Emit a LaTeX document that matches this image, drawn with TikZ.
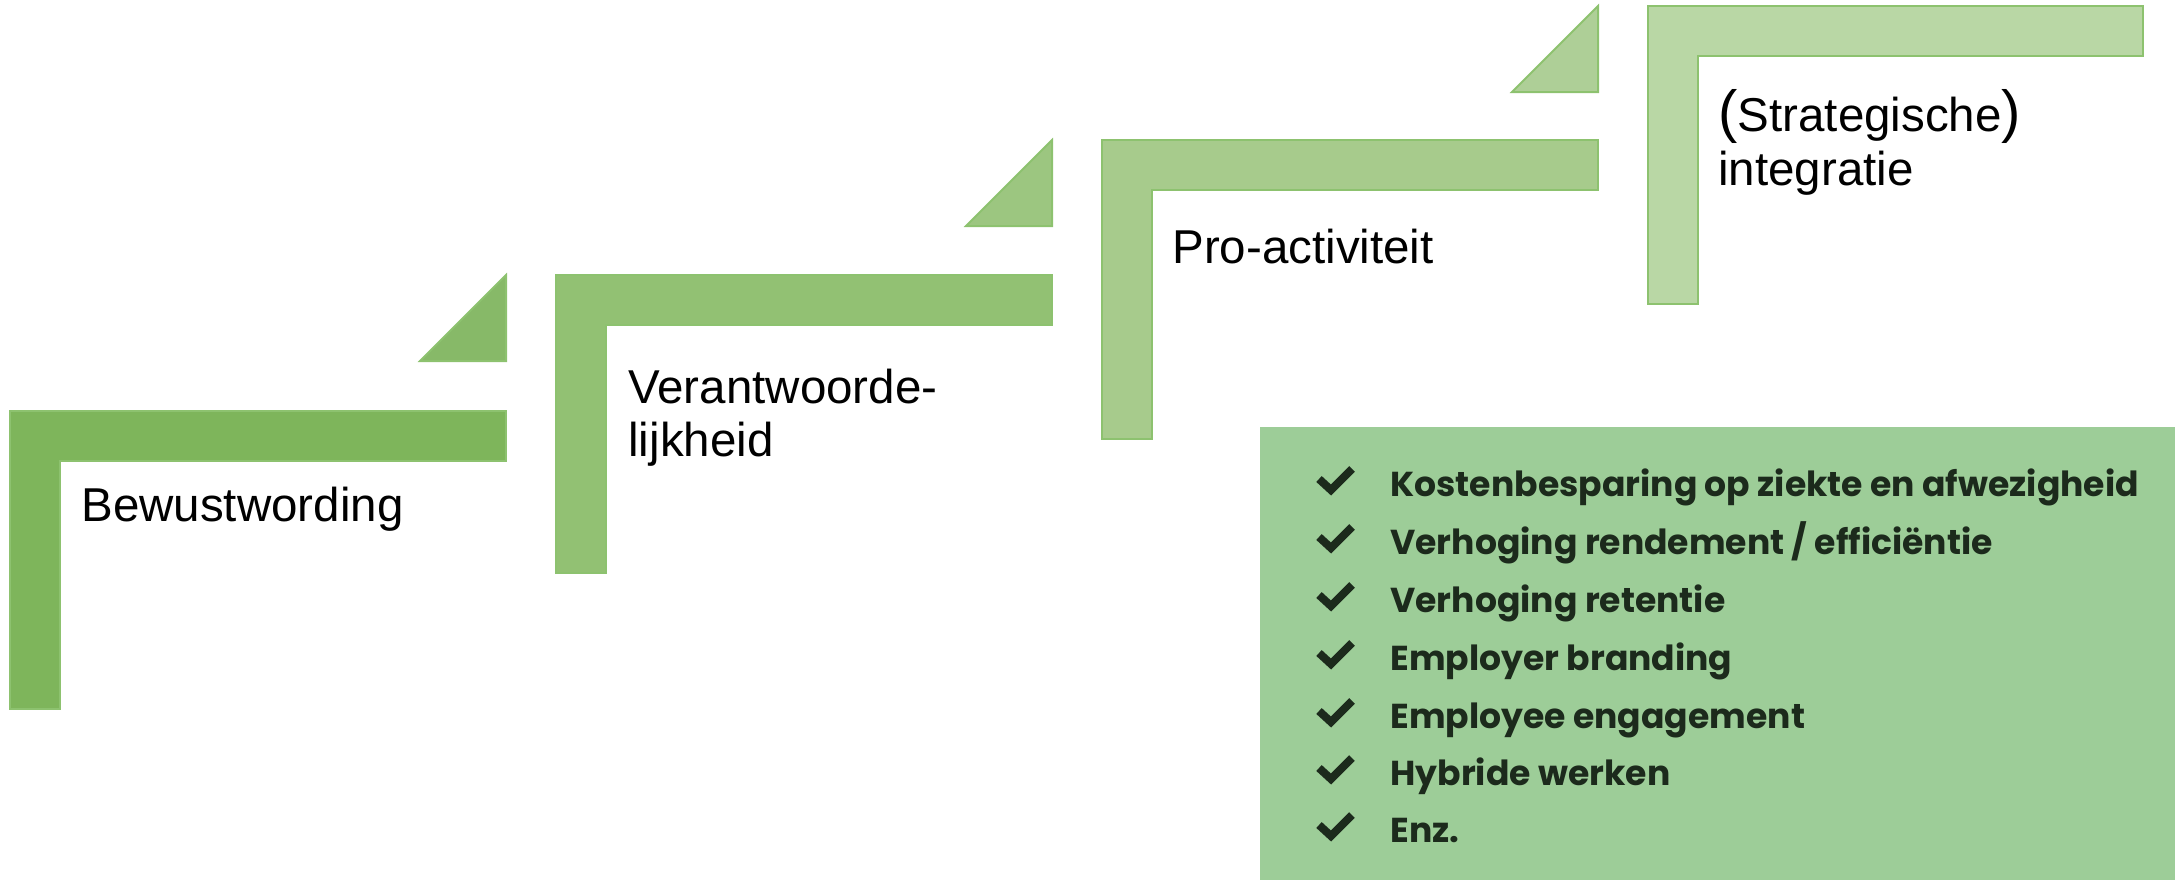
\documentclass[tikz,border=0pt]{standalone}
\usepackage{fontspec}
\setmainfont{Liberation Sans}
\newfontfamily\listfont{Poppins}
\definecolor{sA}{HTML}{7EB55B}
\definecolor{sB}{HTML}{92C173}
\definecolor{sC}{HTML}{A7CB8C}
\definecolor{sD}{HTML}{B9D7A5}
\definecolor{tA}{HTML}{87B968}
\definecolor{tB}{HTML}{9CC680}
\definecolor{tC}{HTML}{AECF97}
\definecolor{edgeg}{HTML}{8DC26F}
\definecolor{boxg}{HTML}{9DCD98}
\definecolor{ink}{HTML}{1C2A1C}
\begin{document}
\begin{tikzpicture}[x=0.5pt,y=-0.5pt,
  stepshape/.style={draw=edgeg, line width=1pt},
  steplabel/.style={anchor=base west, inner sep=0pt, font=\fontsize{23.75}{28.5}\selectfont},
  listlabel/.style={anchor=base west, inner sep=0pt, text=ink, font=\listfont\bfseries\fontsize{17.3}{20}\selectfont},
  tick/.style={draw=ink, line width=4pt}]
\useasboundingbox (0,0) rectangle (2179,880);
% steps
\foreach \L/\T/\R/\B/\c in {10/411/506/709/sA, 556/275/1052/573/sB, 1102/140/1598/439/sC, 1648/6/2143/304/sD}{
  \path[stepshape, fill=\c] (\L,\T) -- (\R,\T) -- (\R,\T+50) -- (\L+50,\T+50) -- (\L+50,\B) -- (\L,\B) -- cycle;
}
% triangles
\foreach \R/\T/\c in {506/275/tA, 1052/140/tB, 1598/6/tC}{
  \path[stepshape, fill=\c] (\R-86,\T+86) -- (\R,\T+86) -- (\R,\T) -- cycle;
}
% step labels
\node[steplabel] (t1) at (81,521) {Bewustwording};
\node[steplabel] (t2a) at (628,403) {Verantwoorde-};
\node[steplabel] (t2b) at (628,456) {lijkheid};
\node[steplabel] (t3) at (1172,263) {Pro-activiteit};
\node[steplabel] (t4a) at (1718,131) {{\fontsize{29}{30}\selectfont(}Strategische{\fontsize{29}{30}\selectfont)}};
\node[steplabel] (t4b) at (1718,185) {integratie};
% benefits box
\fill[boxg] (1260,427) rectangle (2175,880);
\foreach \b/\txt [count=\i] in {496/{Kostenbesparing op ziekte en afwezigheid}, 554/{Verhoging rendement / efficiëntie}, 612/{Verhoging retentie}, 670/{Employer branding}, 728/{Employee engagement}, 785/{Hybride werken}, 842/{Enz.}}{
  \draw[tick] (1319,\b-17) -- (1331,\b-6) -- (1352,\b-27);
  \node[listlabel] (l\i) at (1390,\b) {\txt};
}
\end{tikzpicture}
\end{document}
